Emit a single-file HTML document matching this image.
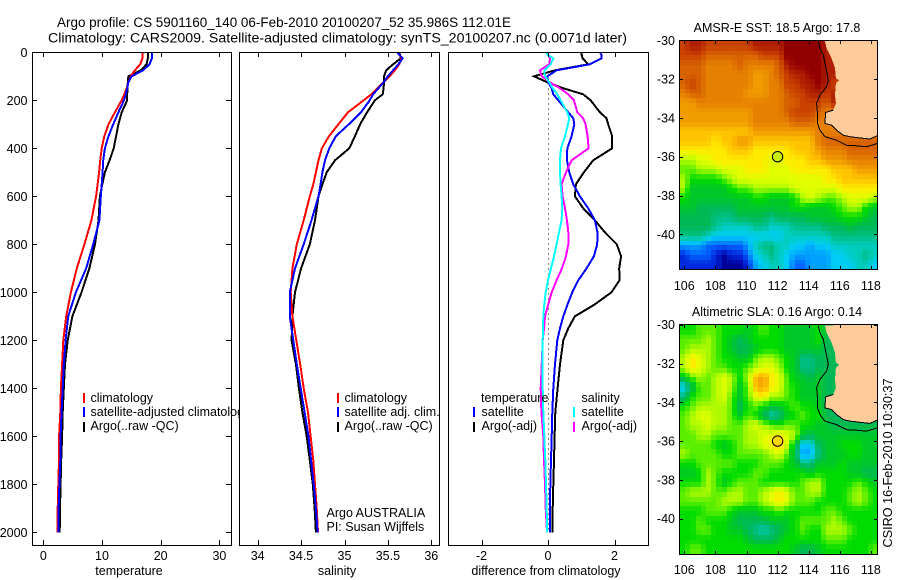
<!DOCTYPE html>
<html>
<head>
<meta charset="utf-8">
<title>Argo profile CS 5901160_140</title>
<style>
html,body{margin:0;padding:0;background:#fff;}
svg{display:block;}
text{font-family:"Liberation Sans",sans-serif;font-size:12.5px;fill:#000;}
.frame{fill:none;stroke:#000;stroke-width:1;shape-rendering:crispEdges;}
.bg{fill:#fff;stroke:none;}
.seg{stroke-width:2;shape-rendering:crispEdges;}
</style>
</head>
<body>
<svg id="chart" xmlns="http://www.w3.org/2000/svg" width="900" height="580" viewBox="0 0 900 580">
  <rect x="0" y="0" width="900" height="580" fill="#fff"/>
  <text x="57" y="27" style="font-size:13.5px" textLength="454" lengthAdjust="spacingAndGlyphs">Argo profile: CS 5901160_140 06-Feb-2010 20100207_52 35.986S 112.01E</text>
  <text x="48" y="42.5" style="font-size:13.5px" textLength="579" lengthAdjust="spacingAndGlyphs">Climatology: CARS2009. Satellite-adjusted climatology: synTS_20100207.nc (0.0071d later)</text>

  <g>
    <rect class="bg" x="32" y="52" width="200" height="494"/>
    <g id="p1-series"></g>
    <rect class="frame" x="32.5" y="52.5" width="199" height="493"/>
    <g id="p1-ticks"></g>
    <text x="129" y="575" text-anchor="middle">temperature</text>
    <line class="seg" x1="84" x2="84" y1="393" y2="403" stroke="#f00"/>
    <line class="seg" x1="84" x2="84" y1="407" y2="417" stroke="#00f"/>
    <line class="seg" x1="84" x2="84" y1="422" y2="432" stroke="#000"/>
    <text x="90.5" y="402">climatology</text>
    <text x="90.5" y="416">satellite-adjusted climatology</text>
    <text x="90.5" y="430">Argo(..raw -QC)</text>
  </g>

  <g>
    <rect class="bg" x="239" y="52" width="202" height="494"/>
    <g id="p2-series"></g>
    <rect class="frame" x="239.5" y="52.5" width="200" height="493"/>
    <g id="p2-ticks"></g>
    <text x="337" y="575" text-anchor="middle">salinity</text>
    <line class="seg" x1="338" x2="338" y1="393" y2="403" stroke="#f00"/>
    <line class="seg" x1="338" x2="338" y1="407" y2="417" stroke="#00f"/>
    <line class="seg" x1="338" x2="338" y1="422" y2="432" stroke="#000"/>
    <text x="344.5" y="402">climatology</text>
    <text x="344.5" y="416">satellite adj. clim.</text>
    <text x="344.5" y="430">Argo(..raw -QC)</text>
    <text x="326.5" y="517">Argo AUSTRALIA</text>
    <text x="326.5" y="531">PI: Susan Wijffels</text>
  </g>

  <g>
    <rect class="bg" x="448" y="52" width="201" height="494"/>
    <g id="p3-series"></g>
    <rect class="frame" x="448.5" y="52.5" width="200" height="493"/>
    <g id="p3-ticks"></g>
    <text x="546" y="575" text-anchor="middle">difference from climatology</text>
    <text x="481" y="402">temperature</text>
    <text x="581.5" y="402">salinity</text>
    <line class="seg" x1="474" x2="474" y1="407" y2="417" stroke="#00f"/>
    <line class="seg" x1="474" x2="474" y1="422" y2="432" stroke="#000"/>
    <line class="seg" x1="574" x2="574" y1="407" y2="417" stroke="#0ff"/>
    <line class="seg" x1="574" x2="574" y1="422" y2="432" stroke="#f0f"/>
    <text x="481.5" y="416">satellite</text>
    <text x="481.5" y="430">Argo(-adj)</text>
    <text x="581.5" y="416">satellite</text>
    <text x="581.5" y="430">Argo(-adj)</text>
  </g>

  <g id="map1"></g>
  <text x="777" y="32" text-anchor="middle">AMSR-E SST: 18.5  Argo: 17.8</text>
  <g id="map2"></g>
  <text x="777" y="316" text-anchor="middle">Altimetric SLA: 0.16  Argo: 0.14</text>
  <text transform="translate(892,463) rotate(-90)" text-anchor="middle" textLength="169" lengthAdjust="spacingAndGlyphs">CSIRO 16-Feb-2010 10:30:37</text>
</svg>

<script>
// ---- profile data ----
const depths = [0,10,25,50,75,100,125,150,175,200,250,300,350,400,450,500,550,600,700,800,900,1000,1100,1200,1300,1400,1500,1600,1700,1800,1900,2000];
const tempClimatology = [16.9,16.9,16.9,16.5,15.6,14.9,14.5,14.2,13.8,13.35,12.2,11.1,10.4,9.95,9.7,9.5,9.25,9.0,8.2,7.0,5.7,4.7,3.9,3.4,3.2,3.0,2.9,2.7,2.67,2.55,2.45,2.4];
const tempSatellite = [18.5,18.5,18.5,18.1,17.0,15.05,14.5,14.3,14.05,13.75,12.8,11.9,11.1,10.5,10.2,10.1,9.95,9.8,9.55,8.5,7.3,5.55,4.25,3.8,3.5,3.3,3.1,2.95,2.9,2.75,2.6,2.55];
const tempArgo = [17.85,17.85,17.8,17.6,16.6,14.5,14.4,14.35,14.3,14.3,13.35,12.8,12.4,12.0,11.3,10.5,10.05,9.65,9.4,8.8,7.85,6.5,4.95,4.15,3.7,3.5,3.3,3.2,3.05,2.95,2.85,2.8];
const salClimatology = [35.62,35.63,35.66,35.63,35.58,35.52,35.45,35.38,35.31,35.22,35.04,34.93,34.82,34.74,34.70,34.67,34.64,34.60,34.53,34.45,34.40,34.38,34.40,34.445,34.49,34.53,34.58,34.61,34.64,34.66,34.68,34.695];
const salSatellite = [35.61,35.63,35.67,35.62,35.56,35.50,35.45,35.39,35.33,35.29,35.19,35.05,34.90,34.825,34.775,34.745,34.725,34.70,34.62,34.53,34.43,34.37,34.37,34.41,34.45,34.495,34.54,34.585,34.615,34.645,34.67,34.69];
const salArgo = [35.62,35.64,35.65,35.56,35.48,35.455,35.455,35.45,35.44,35.35,35.26,35.18,35.12,35.055,34.89,34.795,34.745,34.70,34.66,34.60,34.50,34.43,34.40,34.39,34.44,34.475,34.515,34.565,34.60,34.635,34.655,34.67];
const diffDepths = [0,10,25,50,75,100,125,150,175,200,250,275,300,350,400,450,500,550,600,650,700,750,800,850,900,950,1000,1050,1100,1150,1200,1300,1400,1500,1600,1700,1800,1900,2000];
const diffTempSatellite = [1.56,1.61,1.61,1.26,.26,-.02,.01,.11,.16,.31,.61,.76,.79,.71,.58,.57,.64,.76,.96,1.21,1.41,1.49,1.48,1.38,1.16,.91,.73,.59,.46,.36,.28,.21,.16,.13,.11,.09,.07,.06,.06];
const diffTempArgo = [1.01,1.01,1.04,1.21,.21,-.42,-.02,.46,1.06,1.28,1.56,1.76,1.81,1.93,1.93,1.36,1.08,.84,.81,1.06,1.41,1.71,2.07,2.2,2.14,2.15,1.91,1.41,.81,.61,.46,.36,.29,.22,.20,.18,.16,.14,.13];
const diffSalSatellite = [-.06,-.02,.16,.08,-.11,-.09,.04,.14,.28,.38,.58,.64,.60,.51,.39,.36,.36,.38,.41,.43,.41,.33,.26,.18,.09,0,-.07,-.11,-.14,-.15,-.16,-.16,-.16,-.14,-.11,-.08,-.06,-.04,-.03];
const diffSalArgo = [-.02,.01,.06,.04,-.24,-.19,.06,.36,.61,.78,.88,1.06,1.13,1.19,1.22,.71,.54,.41,.44,.51,.57,.61,.61,.54,.42,.26,.11,.01,-.09,-.12,-.16,-.19,-.22,-.20,-.14,-.12,-.09,-.07,-.03];

// ---- tick labels ----
const depthTicks = [0,200,400,600,800,1000,1200,1400,1600,1800,2000];
const tempTicks = [0,10,20,30];
const salTicks = [34,34.5,35,35.5,36];
const diffTicks = [-2,0,2];
const lonTicks = [106,108,110,112,114,116,118];
const latTicks = [-30,-32,-34,-36,-38,-40];

// ---- map values (colour level, 0 deep blue to 20 dark red) ----
const sstLevels = [
[18,19,19,18,18,18,18,18,18,19,19,19,19,20,20,20,20,20,19,18,18,18,18,18,18],
[18,18,18,17,17,17,17,17,17,17,18,18,18,20,20,20,20,20,19,19,18,18,18,18,18],
[17,17,17,16,16,16,16,17,16,16,16,16,17,19,20,20,20,20,19,19,18,18,18,18,18],
[17,17,17,16,16,16,16,16,16,15,15,16,17,18,19,19,20,20,19,19,18,18,18,18,18],
[17,18,17,16,16,16,16,16,16,15,15,16,16,18,18,19,19,20,19,18,18,18,18,18,18],
[16,17,17,16,16,16,16,16,15,15,15,16,16,17,18,18,19,19,18,19,19,18,18,18,18],
[15,15,16,16,16,16,16,16,16,16,16,16,16,17,17,18,18,18,17,19,19,18,18,18,18],
[15,15,15,15,15,15,15,15,15,16,16,16,16,17,18,18,18,17,16,16,16,16,16,16,16],
[15,15,15,15,15,15,15,15,15,16,16,16,16,16,17,17,17,16,16,16,16,16,16,16,16],
[14,14,14,14,14,14,14,14,14,15,15,15,15,15,15,15,15,16,16,16,16,16,16,16,16],
[14,14,14,14,13,14,14,15,15,14,14,14,14,14,14,14,14,16,17,17,17,17,17,17,17],
[13,13,13,13,13,13,14,14,14,13,13,13,13,13,14,14,14,15,16,16,16,17,17,17,17],
[11,11,12,12,13,13,13,13,13,13,13,12,12,13,13,13,14,14,15,15,15,16,16,16,16],
[10,10,11,11,11,12,12,12,13,13,13,12,12,12,13,13,13,13,13,14,14,14,15,15,15],
[11,9,9,9,9,10,11,12,12,12,12,12,12,12,12,12,12,12,13,13,14,14,14,14,14],
[11,8,8,8,8,8,9,10,10,11,11,11,11,11,12,12,12,12,12,12,13,13,13,13,13],
[9,8,8,8,8,8,8,8,8,9,9,8,8,8,9,11,12,11,10,10,11,12,12,12,11],
[8,8,7,7,7,7,7,8,8,8,8,8,8,8,9,9,8,8,8,9,10,11,11,9,8],
[7,7,7,7,6,6,6,7,7,7,7,6,7,7,7,7,8,8,8,8,9,9,9,8,7],
[7,7,7,7,6,5,5,5,5,6,6,5,5,5,6,6,6,6,7,7,7,8,7,7,7],
[6,6,6,5,4,4,4,4,4,4,4,4,4,5,5,5,5,5,5,6,6,6,6,6,6],
[3,3,3,2,2,2,2,2,3,5,6,6,5,5,4,4,3,4,4,5,5,5,5,5,5],
[1,2,2,2,1,0,1,1,2,4,5,6,5,4,3,3,3,3,3,4,4,5,5,6,5],
[1,1,1,1,1,0,0,0,1,3,4,5,5,4,2,2,3,3,3,4,4,4,5,5,4]
];
const slaLevels = [
[9,9,10,10,10,9,9,9,8,9,10,9,9,8,8,8,8,9,7,7,7,7,7,7,7],
[10,10,10,11,10,9,8,7,8,9,9,9,9,8,8,8,8,9,7,7,7,7,7,7,7],
[10,11,11,11,10,9,8,7,7,8,9,9,9,8,8,8,8,8,7,7,7,7,7,7,7],
[11,13,12,11,10,9,9,8,8,10,11,11,10,9,8,6,6,7,7,7,7,7,7,7,7],
[11,13,12,11,10,10,9,9,10,11,12,12,11,9,8,6,6,7,7,7,7,7,7,7,7],
[8,10,11,10,11,12,11,9,11,14,15,13,12,10,8,8,7,8,7,7,7,7,7,7,7],
[4,7,10,10,11,12,11,8,10,14,15,13,12,10,9,8,8,8,7,7,7,7,7,7,7],
[6,9,10,10,11,12,10,8,10,12,13,11,11,10,9,8,8,8,7,7,7,7,7,7,7],
[9,10,11,11,11,11,10,7,9,10,9,8,8,9,10,9,9,8,7,7,7,7,7,7,7],
[10,11,12,12,11,11,10,8,10,9,7,5,6,8,9,10,9,9,7,7,7,7,7,7,7],
[10,11,11,12,11,11,10,10,11,12,11,10,9,10,10,9,9,8,8,7,7,7,7,7,7],
[10,10,11,11,10,10,10,10,11,11,12,12,13,12,11,8,7,8,8,8,8,8,8,8,8],
[10,10,10,10,9,8,9,10,11,11,12,13,14,12,8,4,4,7,8,8,9,9,9,8,8],
[11,10,10,10,10,9,9,10,10,10,10,11,12,10,7,3,3,6,8,8,8,9,9,8,8],
[9,9,10,10,10,10,10,9,9,9,10,10,10,9,8,6,6,8,8,8,9,8,8,8,8],
[8,8,9,11,10,9,9,9,9,10,10,9,9,9,9,9,8,9,9,9,9,8,8,7,7],
[9,9,9,11,10,8,9,10,10,10,9,9,9,9,9,10,11,11,9,9,9,9,10,9,8],
[10,11,11,11,10,10,11,11,10,10,11,12,13,12,10,10,11,11,9,9,9,10,11,10,9],
[10,10,10,10,10,11,11,11,10,10,11,12,13,12,10,10,10,9,9,9,9,10,11,10,9],
[9,9,9,10,10,10,9,8,8,8,9,9,10,9,9,9,9,9,10,10,9,9,9,9,9],
[9,9,10,9,9,9,8,7,7,7,7,8,8,8,9,10,10,10,10,11,10,9,9,9,9],
[9,9,10,10,9,9,8,8,7,6,5,6,7,8,9,10,9,9,11,11,11,10,9,9,9],
[9,9,9,9,9,9,9,9,8,7,7,7,8,9,9,9,9,9,10,10,10,9,9,9,9],
[9,10,10,9,9,9,9,9,9,9,9,9,9,9,8,7,7,8,9,9,9,9,9,9,10]
];
const levelColors = [[0,0,150],[0,40,220],[0,100,255],[0,160,255],[0,205,245],[0,205,190],[0,190,130],[0,185,85],[0,200,40],[0,220,0],[90,238,0],[175,250,0],[225,255,0],[255,235,0],[255,195,0],[240,155,0],[230,128,0],[215,98,0],[200,65,0],[175,30,0],[145,0,0]];

// ---- coastline and shelf contour (lon, lat) ----
const coastLon = [115.04,115.15,115.47,115.69,115.75,115.96,115.75,115.69,115.75,115.58,115.09,115.04,115.47,115.79,116.22,116.65,117.29,117.93,118.41];
const coastLat = [-30.03,-30.41,-30.93,-31.45,-31.96,-32.05,-32.22,-32.82,-33.25,-33.6,-33.72,-34.29,-34.37,-34.63,-34.89,-34.97,-35.03,-35.09,-34.92];
const shelfLon = [114.61,114.72,114.94,115.11,115.26,115.15,114.72,114.51,114.57,114.57,114.72,115.04,115.79,116.44,117.08,117.72,118.41];
const shelfLat = [-30.03,-30.41,-30.76,-31.45,-32.05,-32.39,-32.82,-33.25,-33.86,-34.29,-34.63,-34.97,-35.15,-35.41,-35.44,-35.49,-35.32];

// ---- axis functions ----
const NS = "http://www.w3.org/2000/svg";
const depthY = d => 52.3 + d * 0.24;
const tempX = v => 43.3 + v * 5.87;
const salX = v => 257.7 + (v - 34) * 86.8;
const diffX = v => 548 + v * 33.25;

function mk(tag, attrs, parent) {
  const el = document.createElementNS(NS, tag);
  for (const k in attrs) el.setAttribute(k, attrs[k]);
  parent.appendChild(el);
  return el;
}

function drawSeries(parent, name, ds, values, xFn, color) {
  const pts = values.map((v, i) => xFn(v).toFixed(1) + "," + depthY(ds[i]).toFixed(1)).join(" ");
  const el = mk("polyline", {points: pts, fill: "none", stroke: color, "stroke-width": 2, "shape-rendering": "crispEdges"}, parent);
  
  
}

function tickLine(parent, x1, y1, x2, y2) {
  const el = mk("line", {x1: x1, y1: y1, x2: x2, y2: y2, stroke: "#000", "stroke-width": 1, "shape-rendering": "crispEdges"}, parent);
  
  
}

function tickLabel(parent, x, y, anchor, str) {
  const el = mk("text", {x: x, y: y, "text-anchor": anchor}, parent);
  el.textContent = str;
  
  
}

function xTicks(parent, ticks, xFn) {
  ticks.forEach(t => {
    const x = Math.round(xFn(t)) + 0.5;
    tickLine(parent, x, 53, x, 57);
    tickLine(parent, x, 545, x, 540);
    tickLabel(parent, xFn(t), 560, "middle", String(t));
  });
}

// panel 1
const s1 = document.getElementById("p1-series");
const t1 = document.getElementById("p1-ticks");
drawSeries(s1, "temperature-argo-line", depths, tempArgo, tempX, "#000");
drawSeries(s1, "temperature-climatology-line", depths, tempClimatology, tempX, "#f00");
drawSeries(s1, "temperature-satellite-line", depths, tempSatellite, tempX, "#00f");
xTicks(t1, tempTicks, tempX);
depthTicks.forEach(d => {
  const y = Math.round(depthY(d)) + 0.5;
  tickLine(t1, 33, y, 37, y);
  tickLine(t1, 231, y, 226, y);
  tickLabel(t1, 27.5, depthY(d) + 4.5, "end", String(d));
});

// panel 2
const s2 = document.getElementById("p2-series");
const t2 = document.getElementById("p2-ticks");
drawSeries(s2, "salinity-argo-line", depths, salArgo, salX, "#000");
drawSeries(s2, "salinity-climatology-line", depths, salClimatology, salX, "#f00");
drawSeries(s2, "salinity-satellite-line", depths, salSatellite, salX, "#00f");
xTicks(t2, salTicks, salX);

// panel 3
const s3 = document.getElementById("p3-series");
const t3 = document.getElementById("p3-ticks");
const zero = mk("line", {x1: Math.round(diffX(0)) + 0.5, x2: Math.round(diffX(0)) + 0.5, y1: depthY(150), y2: depthY(2000), stroke: "#000", "stroke-width": 1, "stroke-dasharray": "1 4", "shape-rendering": "crispEdges"}, s3);


drawSeries(s3, "diff-temperature-argo-line", diffDepths, diffTempArgo, diffX, "#000");
drawSeries(s3, "diff-temperature-satellite-line", diffDepths, diffTempSatellite, diffX, "#00f");
drawSeries(s3, "diff-salinity-argo-line", diffDepths, diffSalArgo, diffX, "#f0f");
drawSeries(s3, "diff-salinity-satellite-line", diffDepths, diffSalSatellite, diffX, "#0ff");
xTicks(t3, diffTicks, diffX);

// maps
const lonX = lon => 684.3 + (lon - 106) * 15.55;
const MAP_LEFT = 680, MAP_RIGHT = 878, CELL_W = 5.2, CELL_H = 4.8;

function sampleColor(levels, fx, fy) {
  const rows = levels.length, cols = levels[0].length;
  const u = Math.min(cols - 1, Math.max(0, fx * cols - 0.5));
  const v = Math.min(rows - 1, Math.max(0, fy * rows - 0.5));
  const j0 = Math.floor(u), i0 = Math.floor(v);
  const j1 = Math.min(cols - 1, j0 + 1), i1 = Math.min(rows - 1, i0 + 1);
  const a = u - j0, b = v - i0;
  const lv = (levels[i0][j0] * (1 - a) + levels[i0][j1] * a) * (1 - b) + (levels[i1][j0] * (1 - a) + levels[i1][j1] * a) * b;
  const k = Math.min(levelColors.length - 2, Math.floor(lv));
  const t = lv - k;
  const c = levelColors[k].map((p, n) => Math.round(p * (1 - t) + levelColors[k + 1][n] * t));
  return "rgb(" + c.join(",") + ")";
}

function drawMap(g, levels, top, bottom, lat30, fillColor, labelBase) {
  const latY = lat => lat30 + (-30 - lat) * 19.4;
  const nx = Math.round((MAP_RIGHT - MAP_LEFT) / CELL_W);
  const ny = Math.round((bottom - top) / CELL_H);
  for (let i = 0; i < ny; i++) {
    for (let j = 0; j < nx; j++) {
      const x0 = Math.round(MAP_LEFT + j * (MAP_RIGHT - MAP_LEFT) / nx);
      const x1 = Math.round(MAP_LEFT + (j + 1) * (MAP_RIGHT - MAP_LEFT) / nx);
      const y0 = Math.round(top + i * (bottom - top) / ny);
      const y1 = Math.round(top + (i + 1) * (bottom - top) / ny);
      const c = mk("rect", {x: x0, y: y0, width: x1 - x0, height: y1 - y0, fill: sampleColor(levels, (j + 0.5) / nx, (i + 0.5) / ny), "shape-rendering": "crispEdges"}, g);
      
      
    }
  }
  const xy = (lons, lats) => lons.map((v, i) => lonX(v).toFixed(1) + "," + latY(lats[i]).toFixed(1));
  const landPts = xy(coastLon, coastLat);
  landPts.push("878," + latY(coastLat[coastLat.length - 1]).toFixed(1));
  landPts.push("878," + top);
  const land = mk("polygon", {points: landPts.join(" "), fill: "#ffcc99", stroke: "none", "shape-rendering": "crispEdges"}, g);
  
  
  const coast = mk("polyline", {points: xy(coastLon.slice(9), coastLat.slice(9)).join(" "), fill: "none", stroke: "#000", "stroke-width": 1, "shape-rendering": "crispEdges"}, g);
  
  
  const shelf = mk("polyline", {points: xy(shelfLon, shelfLat).join(" "), fill: "none", stroke: "#000", "stroke-width": 1, "shape-rendering": "crispEdges"}, g);
  
  
  const marker = mk("circle", {cx: lonX(112), cy: latY(-36), r: 5.2, fill: fillColor, stroke: "#000", "stroke-width": 1}, g);
  
  
  const frame = mk("rect", {x: 679.5, y: top - 0.5, width: 198, height: bottom - top + 1, fill: "none", stroke: "#000", "stroke-width": 1, "shape-rendering": "crispEdges"}, g);
  
  
  lonTicks.forEach(t => {
    const x = Math.round(lonX(t)) + 0.5;
    tickLine(g, x, top, x, top + 3);
    tickLine(g, x, bottom, x, bottom - 3);
    tickLabel(g, lonX(t), labelBase, "middle", String(t));
  });
  latTicks.forEach(t => {
    const y = Math.round(latY(t)) + 0.5;
    tickLine(g, 680, y, 683, y);
    tickLine(g, 877, y, 874, y);
    tickLabel(g, 675, latY(t) + 4.5, "end", String(t));
  });
}
drawMap(document.getElementById("map1"), sstLevels, 41, 269, 40.3, "#c8f000", 290);
drawMap(document.getElementById("map2"), slaLevels, 325, 554, 324.7, "#ffd800", 574);
</script>
</body>
</html>
